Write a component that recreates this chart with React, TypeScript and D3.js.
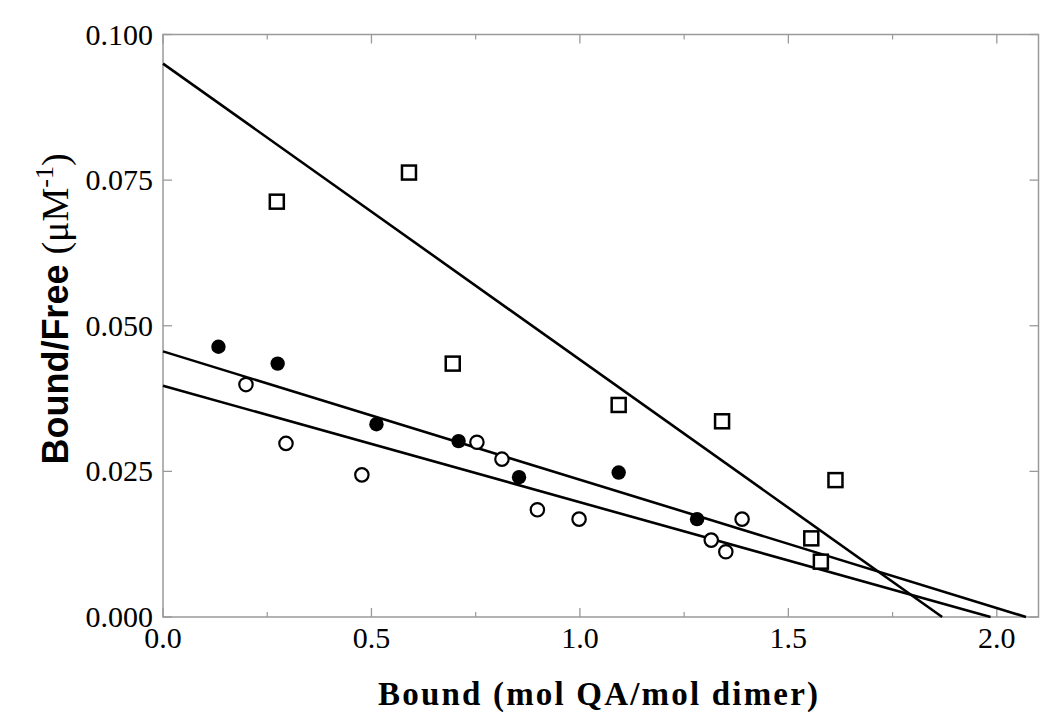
import React from "react";
import * as d3 from "d3";

const filledX = [0.133, 0.275, 0.512, 0.709, 0.854, 1.093, 1.281];
const filledY = [0.0464, 0.0435, 0.0331, 0.0302, 0.024, 0.0248, 0.0168];

const openX = [0.199, 0.295, 0.477, 0.753, 0.813, 0.898, 0.998, 1.315, 1.35, 1.389];
const openY = [0.0399, 0.0298, 0.0244, 0.03, 0.0271, 0.0184, 0.0168, 0.0132, 0.0112, 0.0168];

const squareX = [0.273, 0.59, 0.695, 1.093, 1.341, 1.613, 1.555, 1.578];
const squareY = [0.0713, 0.0763, 0.0435, 0.0364, 0.0336, 0.0235, 0.0135, 0.0095];

// fit lines: y-intercept and x-intercept
const lineYIntercepts = [0.095, 0.0456, 0.0397];
const lineXIntercepts = [1.869, 2.07, 1.985];

const xTicks = [0, 0.5, 1.0, 1.5, 2.0];
const xMinorTicks = [0.25, 0.75, 1.25, 1.75];
const yTicks = [0, 0.025, 0.05, 0.075, 0.1];

const W = 1050;
const H = 720;
const L = 163, R = 1038.5, T = 34.5, B = 617;

export default function App() {
  const x = d3.scaleLinear().domain([0, 2.1]).range([L, R]);
  const y = d3.scaleLinear().domain([0, 0.1]).range([B, T]);
  const line = d3.line<[number, number]>().x((d) => x(d[0])).y((d) => y(d[1]));
  const frame = "#9a9a9a";
  const serif = "'Liberation Serif', 'Times New Roman', serif";
  const sans = "'Liberation Sans', Arial, sans-serif";

  return (
    <svg width={W} height={H} style={{ position: "absolute", left: 0, top: 0, background: "#fff" }}>
      <rect x={0} y={0} width={W} height={H} fill="#fff" />
      {/* frame */}
      <rect x={L} y={T} width={R - L} height={B - T} fill="none" stroke={frame} strokeWidth={1.5} />
      {/* x ticks */}
      {xTicks.map((t) => (
        <g key={"xt" + t}>
          <line x1={x(t)} x2={x(t)} y1={B} y2={B - 9} stroke={frame} strokeWidth={1.3} />
          <line x1={x(t)} x2={x(t)} y1={T} y2={T + 9} stroke={frame} strokeWidth={1.3} />
          <text x={x(t)} y={648} textAnchor="middle" fontFamily={serif} fontSize={30} fill="#000">
            {d3.format(".1f")(t)}
          </text>
        </g>
      ))}
      {xMinorTicks.map((t) => (
        <g key={"xm" + t}>
          <line x1={x(t)} x2={x(t)} y1={B} y2={B - 5} stroke={frame} strokeWidth={1.2} />
          <line x1={x(t)} x2={x(t)} y1={T} y2={T + 5} stroke={frame} strokeWidth={1.2} />
        </g>
      ))}
      {/* y ticks */}
      {yTicks.map((t) => (
        <g key={"yt" + t}>
          <line x1={L} x2={L + 9} y1={y(t)} y2={y(t)} stroke={frame} strokeWidth={1.3} />
          <line x1={R} x2={R - 9} y1={y(t)} y2={y(t)} stroke={frame} strokeWidth={1.3} />
          <text x={153} y={y(t) + 10} textAnchor="end" fontFamily={serif} fontSize={30} fill="#000">
            {d3.format(".3f")(t)}
          </text>
        </g>
      ))}
      {/* fit lines */}
      {lineYIntercepts.map((b, i) => (
        <path
          key={"l" + i}
          d={line([[0, b], [lineXIntercepts[i], 0]]) || ""}
          fill="none"
          stroke="#000"
          strokeWidth={2.6}
        />
      ))}
      {/* squares */}
      {squareX.map((v, i) => (
        <rect
          key={"s" + i}
          x={x(v) - 7}
          y={y(squareY[i]) - 7}
          width={14}
          height={14}
          fill="#fff"
          stroke="#000"
          strokeWidth={2.5}
        />
      ))}
      {/* open circles */}
      {openX.map((v, i) => (
        <circle key={"o" + i} cx={x(v)} cy={y(openY[i])} r={6.7} fill="#fff" stroke="#000" strokeWidth={2.2} />
      ))}
      {/* filled circles */}
      {filledX.map((v, i) => (
        <circle key={"f" + i} cx={x(v)} cy={y(filledY[i])} r={7.2} fill="#000" />
      ))}
      {/* axis titles */}
      <text
        x={598}
        y={705}
        textAnchor="middle"
        fontFamily={serif}
        fontWeight="bold"
        fontSize={33}
        textLength={440}
        lengthAdjust="spacing"
        fill="#000"
      >
        Bound (mol QA/mol dimer)
      </text>
      <text
        transform="translate(68,309) rotate(-90)"
        textAnchor="middle"
        fill="#000"
      >
        <tspan fontFamily={sans} fontWeight="bold" fontSize={36}>Bound/Free </tspan>
        <tspan fontFamily={serif} fontSize={38}>(μM</tspan>
        <tspan fontFamily={serif} fontSize={26} dy={-15}>-1</tspan>
        <tspan fontFamily={serif} fontSize={38} dy={15}>)</tspan>
      </text>
    </svg>
  );
}
